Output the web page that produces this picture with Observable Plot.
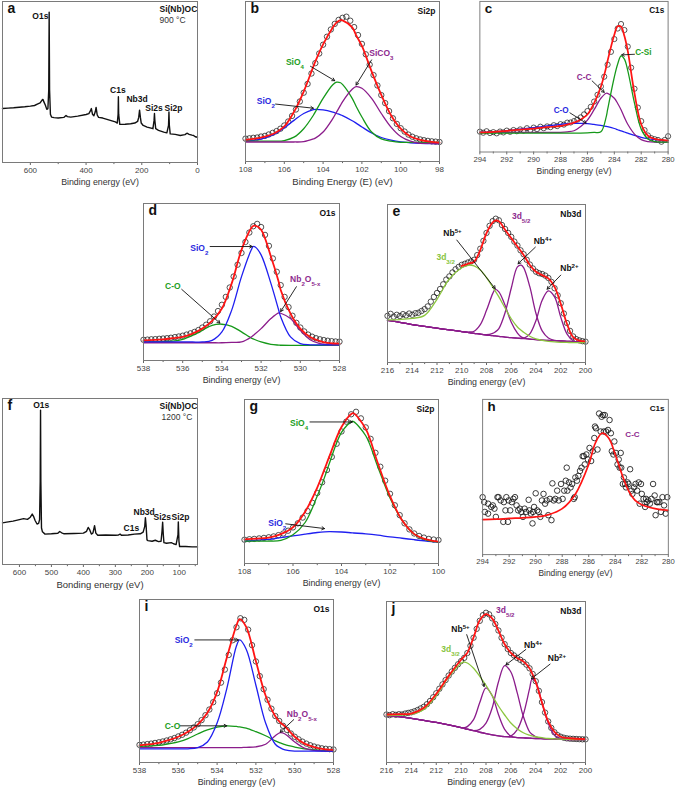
<!DOCTYPE html>
<html><head><meta charset="utf-8">
<script src="https://cdn.jsdelivr.net/npm/d3@7"></script>
<script src="https://cdn.jsdelivr.net/npm/@observablehq/plot@0.6"></script>
<style>
body{margin:0;background:#fff;font-family:"Liberation Sans",Arial,Helvetica,sans-serif}
#fig{position:relative;width:685px;height:789px;overflow:hidden;background:#fff}
.panel{position:absolute}
</style>
</head><body><div id="fig"></div>
<script>
// ---------------- DATA ----------------
// (a) survey 900 °C
const aE = [700,680,660,640,620,600,585,575,565,558,555,551,546,541,537,534,532.5,531,528,524,515,500,480,472,467,455,430,400,390,384,381,377,372,367,364,360,355,340,325,310,295,288,285,284,283,279,260,240,225,215,211,208,205,202,195,181,170,160,156,154.5,153,150,140,121,110,104,102.5,101,98,80,62,45,38,30,20,14,8,0];
const aI = [33.5,33.8,34.0,34.3,34.6,35.0,35.4,36.2,37.0,38.8,39.2,37.5,35.5,33.0,33.5,45,93.3,45,30,28.2,27.9,27.6,28.0,29.2,28.5,28.2,28.8,29.8,30.4,32.2,33.5,30,29.0,31.5,34.2,29.5,28.0,27.6,26.8,26.0,25.2,24.5,30,40.9,30,23.7,23.8,24.1,24.5,25.5,28,32.5,28,24.5,23.0,22.0,21.5,21.0,26,30.4,26,21.0,20.0,18.9,18.4,23,31.4,23,17.8,17.5,16.8,17.3,18.2,17.5,17.0,16.8,16.0,15.7];
// (f) survey 1200 °C
const fE = [653,640,620,600,587,575,566,560,556,551,545,540,537,535,534,533,531,528,520,500,480,474,468,460,430,400,390,385,380,375,370,365,361,355,330,300,290,285,281,260,240,222,213,208,206,204,201,198,185,175,165,157,154,152,150,148,140,125,118,110,104,103,101,99,80,60,43];
const fI = [25.1,25.5,26.1,27.0,27.6,27.2,28.5,30.4,29,26.5,24.4,24.8,27,50,93.0,50,22,19.7,18.3,18.5,18.8,19.9,19.1,18.5,18.7,18.9,20,22.3,20.8,18.3,19,23.4,18.9,17.6,17.8,17.6,17.8,18.3,17.6,17.8,18.3,18.5,19.5,23,28.2,24,14.8,14.4,14.0,14.6,13.8,14.0,20,25.5,18,13.2,12.8,13.2,12.5,12.0,18,25.7,14,10.8,10.8,10.6,10.6];

// (b) Si2p 900 °C
const bData = [14.3,14.5,14.8,15.0,15.6,16.0,16.9,17.9,19.0,20.5,22.5,25.0,28.5,32.5,37.5,43.0,48.5,55.0,61.5,67.5,73.0,78.0,82.5,86.0,88.5,89.8,90.5,88.0,84.0,79.0,73.5,67.0,60.5,54.0,47.5,41.5,36.5,31.5,27.0,23.5,20.8,18.7,16.8,15.5,14.5,13.8,13.3,12.9,12.6,12.4,12.2];
const bGrid = [108,107.5,107,106.5,106,105.5,105,104.5,104.4,104,103.5,103.3,103.1,103,102.5,102.3,102,101.5,101,100.5,100,99.5,99,98.5,98];
const bSiO2 = [12.7,13.3,14.8,17.1,21.1,25.7,30.0,32.4,32.6,32.2,30.8,30.0,29.2,28.7,25.5,24.0,21.6,17.8,15.0,13.3,12.2,11.7,11.4,11.2,11.2];
const bSiO4 = [12.7,12.7,12.7,12.7,13.1,15.2,20.5,28.9,31.0,39.5,48.0,49.6,49.2,48.2,39.5,34.5,27.8,18.4,14.1,12.7,12.0,12.0,12.0,12.0,12.0];
const bSiCO3 = [12.2,12.2,12.2,12.2,12.2,12.2,12.4,14.1,14.6,18.4,26.8,31.0,35.2,37.3,45.1,46.8,45.8,39.5,30.0,21.5,15.6,12.7,11.4,11.3,11.2];
const bFit = [13.5,14.3,15.6,17.7,21.9,31.0,43.7,59.5,62.5,73.2,83.8,87.0,88.4,88.2,83.8,79.0,72.2,56.3,41.6,28.9,20.5,15.6,13.5,12.4,11.8];

// (c) C1s 900 °C
const cData = [13.5,12.8,13.8,12.6,13.2,12.4,13.6,13.0,14.2,13.4,14.6,13.8,15.0,14.2,15.8,14.6,16.2,15.2,16.8,15.8,17.0,16.5,17.8,17.2,18.5,18.2,19.5,19.6,20.5,21.5,23.0,25.0,27.2,30.0,33.5,38.0,43.5,50.0,58.0,66.5,75.0,82.0,85.0,81.0,70.0,56.0,42.0,29.5,20.5,14.5,11.0,9.2,8.5,8.0,6.8,8.0,10.5];
const cGrid = [294,293,292,291,290,289,288,287.5,287,286.5,286,285.5,285,284.6,284.5,284,283.75,283.5,283.25,283,282.5,282,281.5,281,280.5,280];
const cCO = [13.0,13.4,14.1,15.2,16.2,17.3,18.4,18.8,19.0,19.0,18.8,18.3,17.7,17.0,16.8,15.6,14.8,14.0,13.3,12.6,11.0,9.7,8.8,8.2,7.8,7.6];
const cCC = [13.0,13.0,13.0,13.0,13.0,13.0,13.1,13.4,14.1,16.9,21.2,28.1,35.7,39.0,38.9,35.7,32.2,28.1,23.0,18.4,11.9,8.2,6.9,6.5,6.5,6.5];
const cCSi = [12.6,12.6,12.6,12.6,12.6,12.6,12.6,12.6,12.6,12.6,12.7,13.0,13.4,23.5,28.1,49.8,58.4,63.9,61.7,54.1,32.5,15.2,8.7,6.9,6.6,6.5];
const cFit = [13.0,13.4,14.1,14.8,15.6,16.5,17.3,18.3,19.5,21.6,24.9,32.5,43.3,56.5,60.6,77.9,83.5,83.3,77.0,67.1,39.0,18.4,10.8,8.7,8.0,7.6];

// (d) O1s 900 °C
const dData = [13.2,13.3,13.5,13.6,13.8,14.0,14.2,14.5,14.9,15.3,15.8,16.5,17.3,18.2,19.4,21.0,22.8,25.0,28.0,31.5,35.5,40.5,46.5,53.5,61.0,68.5,75.5,81.5,85.5,87.0,85.0,80.0,73.0,65.0,56.5,48.0,40.5,34.0,28.5,24.0,21.0,18.5,16.5,15.2,14.2,13.5,13.0,12.6,12.3,12.1,12.0];
const dGrid = [538,537,536.5,536,535.5,535,534.5,534,533.5,533,532.5,532.4,532.3,532,531.5,531.1,531,530.5,530,529.5,529,528.5,528];
const dSiO2 = [11.8,11.8,11.8,11.8,11.8,11.8,12.8,18.2,32.1,53.4,70.5,72.6,72.3,67.3,49.1,32.0,27.8,15.0,10.7,10.0,10.0,10.0,10.0];
const dCO = [11.8,12.0,12.4,13.5,16.0,19.2,22.4,23.1,21.8,18.2,14.3,13.8,13.2,11.8,10.3,9.8,9.7,9.6,9.6,9.6,9.6,9.6,9.6];
const dNb = [11.3,11.3,11.3,11.3,11.3,11.3,11.3,11.3,11.5,11.8,15.0,16.0,17.0,20.3,26.7,30.3,30.1,26.7,19.2,13.2,10.7,10.0,10.0];
const dFit = [12.8,13.5,14.2,15.0,17.1,20.3,25.2,33.1,49.1,70.5,84.4,85.7,85.9,83.3,66.2,50.0,44.9,29.9,20.3,15.0,12.4,11.1,10.7];

// (e) Nb3d 900 °C
const eData = [29.5,30.8,29.0,30.2,29.4,30.6,29.8,31.0,30.2,31.2,31.5,32.6,33.8,35.5,38.5,41.5,44.0,46.5,49.5,52.5,54.5,57.0,59.0,60.5,61.8,62.5,63.3,64.0,65.0,68.0,72.0,77.0,82.0,86.5,89.5,91.0,90.0,87.0,84.5,82.0,79.5,76.5,74.0,71.0,68.5,65.0,62.0,59.5,57.5,56.5,56.0,55.0,53.5,51.0,47.0,42.5,37.5,31.0,25.0,20.0,16.5,14.8,14.0,13.5,13.2];
const eGrid = [216,215,214,213,212,211,210,209.5,209.4,209,208.5,208,207.5,207.3,207,206.5,206,205.5,205.2,205,204.5,204,203.5,203,202.5,202,201.5,201,200.5,200];
const eBg = [26.6,25.4,24.0,22.8,21.7,20.6,19.6,19.0,18.9,18.5,17.9,17.4,17.0,16.8,16.6,16.1,15.7,15.4,15.2,15.1,14.8,14.5,14.2,14.0,13.8,13.6,13.4,13.2,13.0,12.8];
const e3d32 = [27.0,27.2,27.9,29.8,40.0,53.0,60.0,61.5,61.7,61.1,58.5,53.8,47.8,45.3,41.5,34.5,27.7,22.5,20.4,19.1,16.6,14.9,14.0,13.4,13.0,12.8,12.7,12.6,12.6,12.6];
const eNb5 = [26.6,25.4,24.0,22.8,21.7,20.6,19.6,19.2,19.3,19.8,24.0,33.0,43.6,46.2,44.7,36.2,25.5,18.6,16.2,15.6,14.8,14.5,14.2,14.0,13.8,13.6,13.4,13.2,13.0,12.8];
const eNb4 = [26.6,25.4,24.0,22.8,21.7,20.6,19.6,19.0,18.9,18.5,17.9,17.6,18.5,19.3,21.5,31.5,47.0,60.5,61.6,60.0,48.0,31.0,20.0,15.5,14.0,13.6,13.4,13.2,13.0,12.8];
const eNb2 = [26.6,25.4,24.0,22.8,21.7,20.6,19.6,19.0,18.9,18.5,17.9,17.4,17.0,16.8,16.6,16.1,15.7,15.4,15.3,15.3,18.1,26.6,39.4,45.3,41.5,28.7,18.1,13.8,13.0,12.8];
const eFit = [null,null,null,null,null,null,61.1,62.5,62.8,63.8,71.3,81.9,88.7,89.8,89.4,84.0,78.7,73.4,70.2,68.1,61.7,57.4,55.3,53.2,47.9,37.2,24.5,16.0,13.8,13.4];

// (g) Si2p 1200 °C
const gData = [14.5,14.8,15.0,15.3,15.6,16.0,16.5,17.3,18.3,20.0,22.0,24.5,28.0,32.0,37.0,43.0,49.5,57.0,65.0,73.0,80.5,86.5,91.0,92.5,88.5,83.0,76.0,67.5,59.0,50.5,42.5,35.5,29.5,24.5,20.8,18.3,16.8,15.8,15.0,14.6,14.3];
const gGrid = [108,107.5,107,106.5,106,105.5,105,104.7,104.5,104,103.57,103.5,103,102.5,102,101.5,101,100.5,100];
const gSiO4 = [13.7,13.7,13.7,14.1,17.5,25.0,41.1,52.5,61.1,80.0,86.7,86.5,77.9,58.9,40.0,26.3,17.9,14.3,13.1];
const gSiO2 = [13.7,14.2,14.7,15.8,16.8,17.9,18.9,19.3,19.4,19.2,18.7,18.6,18.1,17.3,16.2,15.4,14.5,13.7,13.1];
const gFit = [14.7,15.2,15.8,17.9,22.1,31.6,46.3,57.5,65.3,83.2,91.4,91.6,82.1,61.1,41.1,26.3,17.9,14.7,13.3];

// (h) C1s 1200 °C
const hE = [294.00,293.88,293.83,293.59,293.59,293.35,293.23,293.11,293.00,292.88,292.80,292.64,292.44,292.40,292.28,292.21,292.09,292.04,291.92,291.80,291.68,291.56,291.44,291.32,291.20,291.08,290.96,290.84,290.72,290.53,290.48,290.36,290.24,290.20,290.12,290.00,289.89,289.77,289.65,289.53,289.41,289.29,289.17,289.05,288.93,288.81,288.74,288.64,288.52,288.38,288.26,288.09,287.97,287.85,287.73,287.66,287.61,287.49,287.37,287.25,287.13,287.06,287.01,286.89,286.78,286.66,286.54,286.46,286.37,286.30,286.18,286.06,285.94,285.82,285.70,285.58,285.53,285.46,285.34,285.22,285.10,285.03,284.93,284.86,284.79,284.69,284.55,284.43,284.33,284.26,284.14,284.07,283.95,283.83,283.74,283.67,283.59,283.55,283.43,283.35,283.26,283.19,283.07,283.00,282.88,282.78,282.71,282.59,282.47,282.35,282.23,282.16,282.06,282.00,281.87,281.75,281.68,281.63,281.51,281.39,281.27,281.15,281.03,280.96,280.87,280.80,280.68,280.56,280.44,280.32,280.20,280.08];
const hI = [37.0,33.8,27.5,26.4,32.8,30.7,31.7,29.6,24.3,37.0,37.0,34.9,21.1,33.8,28.5,37.0,21.1,34.9,28.5,33.8,35.9,37.0,31.7,28.5,29.6,27.5,24.3,29.6,27.5,35.3,28.5,26.4,20.1,27.5,30.7,39.5,28.5,27.5,24.3,34.9,39.1,32.8,34.9,25.4,35.9,22.2,45.9,34.9,35.9,41.2,34.9,45.5,35.9,41.2,47.6,56.0,41.2,46.5,43.3,45.5,35.9,37.0,49.7,47.6,50.7,53.9,56.0,63.4,63.4,58.1,64.5,61.3,68.7,60.3,66.6,75.1,82.5,81.4,67.7,90.9,79.3,88.8,89.9,79.3,89.9,79.3,80.3,86.7,78.2,66.6,64.5,72.9,65.5,58.1,61.3,56.0,65.5,56.0,45.5,49.7,45.5,43.3,46.5,45.5,55.0,41.2,39.1,43.3,45.5,41.2,46.5,32.8,45.5,39.1,35.9,30.7,35.9,33.8,34.9,32.8,35.9,45.5,38.1,25.4,33.8,33.8,33.8,27.5,37.0,31.7,26.4,37.0];
const hGrid = [294,293,292,291,290,289,288,287,286,285.5,285,284.5,284,283.5,283,282.5,282,281,280];
const hFit = [22.6,22.8,23.3,23.7,24.3,25.8,29.6,39.1,58.1,71.9,78.2,75.1,64.5,51.8,41.2,34.9,32.1,29.6,28.5];

// (i) O1s 1200 °C
const iData = [10.8,11.0,11.3,11.6,12.0,12.4,12.9,13.5,14.2,15.0,16.0,17.0,18.3,19.8,21.5,23.5,26.0,29.0,32.5,37.0,42.5,49.0,57.0,66.0,75.0,83.0,88.5,87.5,81.5,72.0,62.0,53.0,45.0,38.5,33.0,28.5,25.5,22.5,20.0,17.8,15.8,14.2,12.8,11.6,10.6,9.8,9.2,8.7,8.4,8.2,8.0];
const iGrid = [538,537,536.5,536,535.5,535,534.5,534,533.5,533,532.84,532.5,532,531.5,531,530.74,530.5,530,529.5,529,528.5,528];
const iSiO2 = [8.4,8.4,8.4,8.4,8.4,9.1,12.6,24.2,45.3,71.6,75.2,69.5,47.4,24.2,11.2,9.0,7.8,7.0,7.0,7.0,7.0,7.0];
const iCO = [9.9,10.5,11.5,12.6,14.7,17.5,20.0,21.7,22.5,22.1,21.9,21.1,18.9,16.4,13.3,12.0,10.9,9.5,8.4,7.8,7.3,7.0];
const iNb = [9.1,9.1,9.1,9.1,9.1,9.1,9.1,9.1,9.1,9.1,9.1,9.3,9.6,11.2,16.4,18.3,17.5,12.6,8.8,7.4,7.0,7.0];
const iFit = [10.5,12.0,13.7,15.8,18.9,23.2,30.5,43.2,64.2,84.2,88.0,83.2,62.1,41.1,28.4,24.5,22.1,15.8,11.6,9.5,8.2,7.8];

// (j) Nb3d 1200 °C
const jData = [29.8,29.4,30.0,29.6,30.0,29.8,30.4,30.8,31.2,31.8,32.6,33.6,34.6,36.2,38.2,40.5,43.0,45.8,48.5,51.2,54.0,56.5,58.8,61.0,63.0,65.0,68.0,72.5,77.5,83.0,88.0,91.5,93.0,92.0,89.5,86.0,82.0,77.5,73.5,70.5,68.0,66.5,65.0,63.8,62.5,60.8,58.5,55.0,50.5,44.5,37.5,31.0,25.5,21.5,18.8,17.0,16.0,15.4,15.0,14.8,14.7,14.6,14.5,14.4,14.4];
const jGrid = [216,215,214,213,212,211,210,209.8,209.5,209,208.5,208,207.5,207,206.5,206,205.5,205,204.5,204.3,204,203.5,203,202.5,202,201,200];
const jBg = [29.1,28.5,27.4,26.2,24.9,23.4,21.7,21.3,20.7,19.8,18.8,17.9,17.2,16.6,16.1,15.7,15.5,15.3,15.1,15.0,14.9,14.8,14.7,14.6,14.5,14.3,14.3];
const j3d32 = [29.1,29.4,30.0,33.0,41.5,53.2,61.7,62.3,61.8,58.5,53.5,47.9,41.5,35.1,29.5,24.5,21.0,18.5,17.0,16.5,16.0,15.4,14.9,14.7,14.5,14.3,14.3];
const jNb5 = [29.1,28.5,27.4,26.2,24.9,23.4,21.7,21.5,22.3,26.6,37.2,46.4,41.5,29.8,20.6,16.4,15.5,15.3,15.1,15.0,14.9,14.8,14.7,14.6,14.5,14.3,14.3];
const jNb4 = [29.1,28.5,27.4,26.2,24.9,23.4,21.7,21.3,20.7,19.8,20.6,24.5,34.0,50.0,60.2,56.2,43.6,28.7,19.1,17.5,16.0,14.9,14.7,14.6,14.5,14.3,14.3];
const jNb2 = [29.1,28.5,27.4,26.2,24.9,23.4,21.7,21.3,20.7,19.8,18.8,17.9,17.2,16.6,16.1,16.4,20.2,29.8,45.7,51.7,50.0,37.2,24.5,17.0,14.9,14.5,14.3];
const jFit = [29.8,30.0,30.4,34.0,42.6,53.8,63.8,65.5,68.1,77.7,88.3,92.1,89.4,81.9,73.4,68.1,64.9,62.8,58.5,55.5,50.0,37.2,25.5,19.1,16.0,14.9,14.5];

// ---------------- HELPERS ----------------
const FONT = '"Liberation Sans", Arial, Helvetica, sans-serif';
const COL = {red:"#ff1414", blue:"#1f1ff0", green:"#16991a", purple:"#8b1c8b", lime:"#8cc63f",
             tBlue:"#2a2ae0", tGreen:"#1e9e1e", tPurple:"#8e2a8e", tLime:"#86c440"};
const FS = 8.5; // annotation font size
const fig = document.getElementById("fig");

function pairs(xs, ys){ return xs.map((x,i)=>({x, y: ys[i]})).filter(d=>d.y!=null); }
function grid(start, step, n){ return d3.range(n).map(i => +(start - i*step).toFixed(3)); }
function curve(xs, ys, stroke, w=1.3){ return Plot.line(pairs(xs,ys), {x:"x", y:"y", stroke, strokeWidth:w, curve:"catmull-rom"}); }
function dots(xs, ys, r=2.7, sw=0.75){ return Plot.dot(pairs(xs,ys), {x:"x", y:"y", r, stroke:"#1a1a1a", strokeWidth:sw, fill:"none"}); }
function label(x, y, text, fill="#111", opt={}){ return Plot.text([{x,y,text}], {x:"x", y:"y", text:"text", fill, fontSize:FS, fontWeight:"bold", ...opt}); }
function arrow(x1,y1,x2,y2){ return Plot.arrow([{x1,y1,x2,y2}], {x1:"x1",y1:"y1",x2:"x2",y2:"y2", stroke:"#111", strokeWidth:0.9, headLength:5}); }
function odd(a,b){ const r=[]; for(let v=a; v>=b; v-=2) r.push(v); return r; }

function richify(svg){
  const NS = "http://www.w3.org/2000/svg";
  svg.querySelectorAll("text, tspan").forEach(el => {
    if (el.children.length) return;
    const s = el.textContent; if (!/[_^]\{/.test(s)) return;
    el.textContent = "";
    const re = /([_^])\{([^}]*)\}|([^_^]+)/g; let m;
    while ((m = re.exec(s))) {
      const ts = document.createElementNS(NS, "tspan");
      if (m[3] !== undefined) ts.textContent = m[3];
      else { ts.textContent = m[2]; ts.setAttribute("font-size", "72%"); ts.setAttribute("baseline-shift", m[1] === "_" ? "sub" : "super"); }
      el.appendChild(ts);
    }
  });
}

function makePanel(o){
  const ML=18, MR=18, MT=2, MB=30;
  const W = o.right - o.left, H = o.bottom - o.top;
  const extra = [];
  if (o.tag) extra.push(Plot.text([o.tag], {frameAnchor:"top-right", dx:-4, dy:6, lineAnchor:"top", fontSize:8.5, fontWeight:"bold", fill:"#111"}));
  const svg = Plot.plot({
    width: W+ML+MR, height: H+MT+MB,
    marginLeft: ML, marginRight: MR, marginTop: MT, marginBottom: MB,
    style: {fontFamily: FONT, fontSize: "8px", color: "#333", background: "transparent", overflow: "visible"},
    x: {domain: o.x}, y: {domain: [0,100], axis: null},
    marks: [
      Plot.ruleX(o.minor, {x: d => d, y1: 0, y2: -1.3, stroke: "#666"}),
      Plot.axisX({ticks: o.major, tickSize: 3, tickPadding: 1.5, tickFormat: d => String(d), label: null, stroke:"#666", fill:"#444"}),
      ...o.marks,
      Plot.frame({stroke: "#7a7a7a", strokeWidth: 1}),
      Plot.text([o.xlabel], {frameAnchor: "bottom", dy: 20, lineAnchor: "middle", fontSize: o.titleSize || 8.8, fill: "#333"}),
      Plot.text([o.letter], {frameAnchor: "top-left", dx: 5, dy: 2, lineAnchor: "top", fontSize: 14, fontWeight: "bold", fill: "#111"}),
      ...extra
    ]
  });
  richify(svg);
  const div = document.createElement("div");
  div.className = "panel";
  div.style.left = (o.left - ML) + "px";
  div.style.top = (o.top - MT) + "px";
  div.appendChild(svg);
  fig.appendChild(div);
}

const BE = "Binding energy (eV)";

// (a)
makePanel({letter:"a", left:2, right:197, top:1, bottom:162, x:[700,0], major:[600,400,200,0], minor:[500,300,100], xlabel:BE,
  marks:[
    Plot.line(pairs(aE,aI), {x:"x", y:"y", stroke:"#111", strokeWidth:1.4}),
    label(564, 91, "O1s"), label(286, 45, "C1s"), label(217, 39.5, "Nb3d"), label(156, 33.8, "Si2s"), label(86, 33.8, "Si2p"),
    Plot.text(["Si(Nb)OC"], {frameAnchor:"top-right", dx:-38, dy:4, lineAnchor:"top", textAnchor:"start", fontSize:8.5, fontWeight:"bold", fill:"#111"}),
    Plot.text(["900 °C"], {frameAnchor:"top-right", dx:-38, dy:15, lineAnchor:"top", textAnchor:"start", fontSize:8.5, fill:"#333"})
  ]});

// (b)
makePanel({letter:"b", tag:"Si2p", left:245, right:439, top:1, bottom:161, x:[108,98], major:[108,106,104,102,100,98], minor:odd(107,99), xlabel:"Binding Energy (E) (eV)", titleSize:9.5,
  marks:[
    dots(grid(108,0.2,51), bData),
    curve(bGrid, bSiO2, COL.blue), curve(bGrid, bSiO4, COL.green), curve(bGrid, bSiCO3, COL.purple),
    curve(bGrid, bFit, COL.red, 1.8),
    arrow(104.65,59.5,103.4,50.5), arrow(101.5,63.5,102.3,47.8), arrow(106.45,35.9,104.5,33.3),
    label(105.45,61.8,"SiO_{4}",COL.tGreen), label(101.0,67.5,"SiCO_{3}",COL.tPurple), label(106.95,37.8,"SiO_{2}",COL.tBlue)
  ]});

// (c)
makePanel({letter:"c", tag:"C1s", left:480, right:675, top:1, bottom:157, x:[294,280], major:[294,292,290,288,286,284,282,280], minor:odd(293,281), xlabel:BE,
  marks:[
    dots(grid(294,0.25,57), cData),
    curve(cGrid, cCO, COL.blue), curve(cGrid, cCC, COL.purple), curve(cGrid, cCSi, COL.green),
    curve(cGrid, cFit, COL.red, 1.8),
    arrow(282.5,64.9,283.45,64.5), arrow(285.65,47.2,284.75,39.6), arrow(287.3,26.0,286.1,19.2),
    label(282.45,66.5,"C-Si",COL.tGreen,{textAnchor:"start"}), label(286.25,49.5,"C-C",COL.tPurple), label(287.95,27.8,"C-O",COL.tBlue)
  ]});

// (d)
makePanel({letter:"d", tag:"O1s", left:143, right:339, top:203, bottom:360, x:[538,528], major:[538,536,534,532,530,528], minor:odd(537,529), xlabel:BE,
  marks:[
    dots(grid(538,0.2,51), dData),
    curve(dGrid, dCO, COL.green), curve(dGrid, dNb, COL.purple), curve(dGrid, dSiO2, COL.blue),
    curve(dGrid, dFit, COL.red, 1.8),
    arrow(534.6,72.6,532.45,72.6), arrow(536.05,45.3,534.1,23.8), arrow(530.2,47.0,531.0,31.2),
    label(535.15,71.5,"SiO_{2}",COL.tBlue), label(536.5,47.5,"C-O",COL.tGreen), label(529.75,51.5,"Nb_{2}O_{5-x}",COL.tPurple)
  ]});

// (e)
makePanel({letter:"e", tag:"Nb3d", left:387, right:585, top:204, bottom:362, x:[216,200], major:[216,214,212,210,208,206,204,202,200], minor:odd(215,201), xlabel:BE,
  marks:[
    dots(grid(216,0.25,65), eData),
    curve(eGrid, eBg, COL.purple), curve(eGrid, eNb5, COL.purple), curve(eGrid, eNb4, COL.purple), curve(eGrid, eNb2, COL.purple),
    curve(eGrid, e3d32, COL.lime),
    curve(eGrid, eFit, COL.red, 1.8),
    arrow(210.4,77.5,207.3,46.8), arrow(204.05,73.0,205.45,62.5), arrow(202.0,55.3,203.1,46.4),
    label(205.2,92.5,"3d_{5/2}",COL.tPurple), label(210.75,82.0,"Nb^{5+}"), label(211.3,66.5,"3d_{3/2}",COL.tLime),
    label(203.45,76.5,"Nb^{4+}"), label(201.3,59.8,"Nb^{2+}")
  ]});

// (f)
makePanel({letter:"f", left:2, right:197, top:398, bottom:564, x:[653,43], major:[600,500,400,300,200,100], minor:[550,450,350,250,150,50], xlabel:"Bonding energy (eV)", titleSize:9.5,
  marks:[
    Plot.line(pairs(fE,fI), {x:"x", y:"y", stroke:"#111", strokeWidth:1.4}),
    label(532, 96, "O1s"), label(210, 31.5, "Nb3d"), label(153, 28.2, "Si2s"), label(96, 28.2, "Si2p"), label(250, 21.8, "C1s"),
    Plot.text(["Si(Nb)OC"], {frameAnchor:"top-right", dx:-38, dy:4, lineAnchor:"top", textAnchor:"start", fontSize:8.5, fontWeight:"bold", fill:"#111"}),
    Plot.text(["1200 °C"], {frameAnchor:"top-right", dx:-36, dy:15, lineAnchor:"top", textAnchor:"start", fontSize:8.5, fill:"#333"})
  ]});

// (g)
makePanel({letter:"g", tag:"Si2p", left:244, right:438, top:399, bottom:563, x:[108,100], major:[108,106,104,102,100], minor:odd(107,101), xlabel:BE,
  marks:[
    dots(grid(108,0.2,41), gData),
    curve(gGrid, gSiO2, COL.blue), curve(gGrid, gSiO4, COL.green),
    curve(gGrid, gFit, COL.red, 1.8),
    arrow(105.3,86.3,103.55,86.3), arrow(106.3,24.2,104.7,21.3),
    label(105.75,85.5,"SiO_{4}",COL.tGreen), label(106.65,24.5,"SiO_{2}",COL.tBlue)
  ]});

// (h)
makePanel({letter:"h", tag:"C1s", left:483, right:678, top:399, bottom:562, x:[294,280], major:[294,292,290,288,286,284,282,280], minor:odd(293,281), xlabel:BE,
  marks:[
    dots(hE, hI, 2.9, 0.9),
    curve(hGrid, hFit, COL.red, 1.8),
    label(282.7, 77.5, "C-C", COL.tPurple)
  ]});

// (i)
makePanel({letter:"i", tag:"O1s", left:139, right:333, top:599, bottom:762, x:[538,528], major:[538,536,534,532,530,528], minor:odd(537,529), xlabel:BE,
  marks:[
    dots(grid(538,0.2,51), iData),
    curve(iGrid, iCO, COL.green), curve(iGrid, iNb, COL.purple), curve(iGrid, iSiO2, COL.blue),
    curve(iGrid, iFit, COL.red, 1.8),
    arrow(535.15,75.2,532.9,75.2), arrow(535.9,22.5,533.5,22.5), arrow(530.05,26.3,530.75,18.6),
    label(535.72,75.0,"SiO_{2}",COL.tBlue), label(536.3,22.0,"C-O",COL.tGreen), label(529.63,29.5,"Nb_{2}O_{5-x}",COL.tPurple)
  ]});

// (j)
makePanel({letter:"j", tag:"Nb3d", left:386, right:585, top:601, bottom:762, x:[216,200], major:[216,214,212,210,208,206,204,202,200], minor:odd(215,201), xlabel:BE,
  marks:[
    dots(grid(216,0.25,65), jData),
    curve(jGrid, jBg, COL.purple), curve(jGrid, jNb5, COL.purple), curve(jGrid, jNb4, COL.purple), curve(jGrid, jNb2, COL.purple),
    curve(jGrid, j3d32, COL.lime),
    curve(jGrid, jFit, COL.red, 1.8),
    arrow(209.55,79.4,208.15,47.2), arrow(204.8,70.2,206.4,60.6), arrow(202.85,61.1,204.35,52.0),
    label(206.45,94.5,"3d_{5/2}",COL.tPurple), label(210.05,82.5,"Nb^{5+}"), label(210.85,70.5,"3d_{3/2}",COL.tLime),
    label(204.2,73.0,"Nb^{4+}"), label(202.3,64.5,"Nb^{2+}")
  ]});
</script></body></html>
